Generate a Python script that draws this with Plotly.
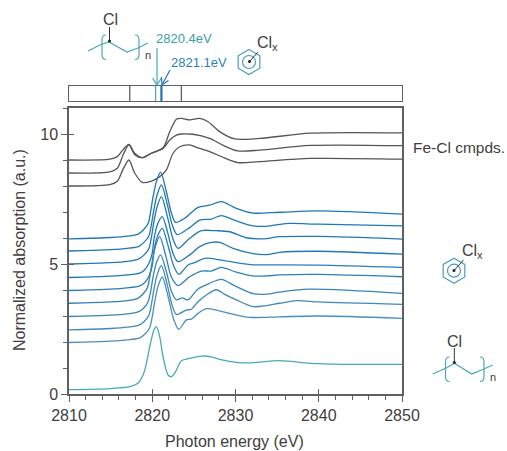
import plotly.graph_objects as go

W, H = 507, 451
L, R, T, B = 69, 402, 108, 394
STRIP_T, STRIP_B = 86, 101

# ---- data ----
fe1_x = [2810, 2814.9, 2815.8, 2816.5, 2817.2, 2817.9, 2818.8, 2819.9, 2821.3, 2822.1, 2822.9, 2823.5, 2824.5, 2825.7, 2826.7, 2828.1, 2829.9, 2832.9, 2839, 2850]
fe1_y = [9.0, 9.03, 9.13, 9.4, 9.6, 9.26, 9.09, 9.26, 9.47, 10.09, 10.57, 10.6, 10.54, 10.6, 10.47, 10.09, 9.81, 9.83, 10.03, 10.04]
fe2_x = [2810, 2814.9, 2815.8, 2816.5, 2817.2, 2817.9, 2818.8, 2819.9, 2821.3, 2822.1, 2822.9, 2823.5, 2824.9, 2826.9, 2828.6, 2830.3, 2832.9, 2839, 2850]
fe2_y = [8.5, 8.54, 8.68, 9.2, 9.58, 9.2, 9.09, 9.26, 9.44, 9.77, 9.96, 10.0, 9.99, 9.83, 9.55, 9.35, 9.38, 9.56, 9.55]
fe3_x = [2810, 2814.9, 2815.8, 2816.5, 2817.2, 2817.9, 2818.8, 2819.9, 2820.9, 2821.7, 2822.5, 2823.3, 2824.5, 2825.3, 2826.9, 2828.6, 2830.3, 2832.9, 2839, 2850]
fe3_y = [8.0, 8.05, 8.18, 8.65, 9.0, 8.49, 8.14, 8.19, 8.36, 8.62, 9.26, 9.51, 9.58, 9.49, 9.32, 9.09, 8.9, 8.94, 9.06, 9.03]

c1_x = [2810, 2815, 2817, 2818.3, 2818.9, 2819.5, 2819.8, 2820.1, 2820.5, 2821.0, 2821.7, 2822.3, 2822.8, 2823.9, 2825.5, 2826.9, 2828.3, 2830.1, 2832.1, 2835.3, 2840, 2850]
c1_y = [5.97, 6.02, 6.07, 6.15, 6.30, 6.56, 7.0, 7.59, 8.17, 8.53, 7.78, 6.96, 6.6, 6.76, 7.18, 7.26, 7.4, 7.14, 6.96, 6.99, 7.04, 6.92]
c2_x = [2810, 2815, 2817, 2818.4, 2819.0, 2819.6, 2819.9, 2820.2, 2820.6, 2821.1, 2821.8, 2822.4, 2823.0, 2824.5, 2825.7, 2827.1, 2828.3, 2830, 2832.1, 2833.7, 2836.3, 2840, 2850]
c2_y = [5.5, 5.55, 5.6, 5.68, 5.83, 6.09, 6.52, 7.1, 7.68, 8.04, 7.3, 6.5, 6.13, 6.4, 6.69, 6.73, 6.86, 6.67, 6.47, 6.45, 6.56, 6.53, 6.47]
c3_x = [2810, 2815, 2817, 2818.4, 2819.0, 2819.6, 2819.9, 2820.2, 2820.6, 2821.1, 2821.8, 2822.5, 2823.1, 2824.5, 2825.9, 2827.7, 2829.3, 2831.3, 2833.3, 2835.3, 2840, 2850]
c3_y = [5.0, 5.05, 5.1, 5.2, 5.34, 5.6, 6.03, 6.63, 7.22, 7.59, 6.85, 5.95, 5.6, 5.99, 6.28, 6.28, 6.24, 6.01, 5.97, 6.05, 6.06, 5.96]
c4_x = [2810, 2815, 2817, 2818.5, 2819.1, 2819.6, 2820.0, 2820.2, 2820.6, 2821.2, 2821.9, 2822.5, 2823.1, 2824.5, 2825.7, 2827.1, 2828.1, 2829.7, 2832.1, 2833.7, 2835.3, 2840, 2850]
c4_y = [4.48, 4.53, 4.58, 4.65, 4.78, 5.03, 5.42, 5.95, 6.5, 6.82, 6.15, 5.4, 5.09, 5.35, 5.67, 5.83, 5.83, 5.6, 5.4, 5.36, 5.45, 5.49, 5.38]
c5_x = [2810, 2815, 2817, 2818.5, 2819.1, 2819.6, 2820.0, 2820.2, 2820.6, 2821.2, 2821.9, 2822.6, 2823.2, 2824.3, 2825.1, 2826.3, 2828.3, 2830.1, 2832.1, 2835.3, 2840, 2850]
c5_y = [3.98, 4.03, 4.08, 4.16, 4.29, 4.53, 4.94, 5.5, 6.05, 6.37, 5.7, 4.9, 4.6, 4.96, 5.05, 5.22, 5.15, 5.05, 4.97, 4.97, 4.96, 4.87]
c6_x = [2810, 2815, 2817, 2818.2, 2818.8, 2819.4, 2819.7, 2820, 2820.4, 2820.9, 2821.6, 2822.3, 2823.1, 2824.5, 2825.9, 2827.1, 2828.3, 2830, 2832.1, 2833.7, 2835.3, 2840, 2850]
c6_y = [3.49, 3.54, 3.59, 3.67, 3.82, 4.08, 4.5, 5.1, 5.7, 6.05, 5.35, 4.5, 4.17, 4.51, 4.73, 4.73, 4.87, 4.7, 4.54, 4.54, 4.58, 4.6, 4.51]
c7_x = [2810, 2815, 2817, 2818.3, 2818.9, 2819.5, 2819.8, 2820.1, 2820.5, 2821.0, 2821.7, 2822.3, 2822.9, 2823.6, 2824.3, 2825.5, 2826.9, 2828.3, 2830.1, 2832.1, 2833.7, 2835.3, 2838.8, 2850]
c7_y = [2.98, 3.03, 3.08, 3.16, 3.28, 3.55, 3.93, 4.5, 5.05, 5.35, 4.7, 3.95, 3.62, 3.7, 3.62, 4.04, 4.26, 4.41, 4.13, 3.86, 3.84, 3.92, 4.03, 3.87]
c8_x = [2810, 2815, 2817, 2818.4, 2819.0, 2819.6, 2819.9, 2820.2, 2820.6, 2821.1, 2821.8, 2822.4, 2822.9, 2824.1, 2824.7, 2825.5, 2826.5, 2827.7, 2828.7, 2830.1, 2832.1, 2833.7, 2835.3, 2837.4, 2840, 2850]
c8_y = [2.47, 2.52, 2.57, 2.65, 2.78, 3.03, 3.45, 4.02, 4.6, 4.94, 4.2, 3.4, 3.06, 3.23, 3.26, 3.55, 3.81, 4.01, 3.83, 3.62, 3.36, 3.4, 3.49, 3.59, 3.54, 3.45]
c9_x = [2810, 2815, 2817, 2818.5, 2819.1, 2819.7, 2820.0, 2820.3, 2820.7, 2821.2, 2821.9, 2822.6, 2823.2, 2824.1, 2824.7, 2825.5, 2826.5, 2827.7, 2829.3, 2831.7, 2835.3, 2840, 2850]
c9_y = [1.98, 2.03, 2.08, 2.16, 2.3, 2.55, 2.98, 3.55, 4.15, 4.5, 3.75, 2.85, 2.49, 2.85, 2.88, 3.1, 3.28, 3.23, 3.1, 2.95, 2.97, 3.0, 2.91]
pvc_x = [2810, 2815, 2817.3, 2818.3, 2818.9, 2819.3, 2819.7, 2820.2, 2820.5, 2820.9, 2821.3, 2821.9, 2822.3, 2822.8, 2823.5, 2824.5, 2825.9, 2827.1, 2828.1, 2830.1, 2831.7, 2835.3, 2839, 2842.9, 2850]
pvc_y = [0.17, 0.21, 0.28, 0.42, 0.73, 1.18, 1.82, 2.46, 2.59, 2.2, 1.43, 0.73, 0.67, 0.86, 1.28, 1.37, 1.46, 1.43, 1.33, 1.22, 1.2, 1.28, 1.18, 1.14, 1.14]

fe_series = [(fe1_x, fe1_y), (fe2_x, fe2_y), (fe3_x, fe3_y)]
blue_series = [(c1_x, c1_y), (c2_x, c2_y), (c3_x, c3_y), (c4_x, c4_y), (c5_x, c5_y),
               (c6_x, c6_y), (c7_x, c7_y), (c8_x, c8_y), (c9_x, c9_y)]
blue_colors = ["#1f78b4", "#1f78b4", "#1f78b4", "#1f78b4", "#2a7db5",
               "#2f80b6", "#3a86b8", "#4089b8", "#4a8fba"]

strip_gray = [2817.3, 2823.5]
strip_teal = [2820.4]
strip_blue = [2821.1]

GRAY = "#606060"
TXT = "#404040"
TEAL = "#4aa9b5"
HEXC = "#4a9cc0"
BLUE = "#2176b8"
FONT = "Liberation Sans, Arial, sans-serif"

fig = go.Figure()
for x, y in fe_series:
    fig.add_trace(go.Scatter(x=x, y=y, mode="lines", line=dict(color="#555555", width=1.3, shape="spline", smoothing=0.8), hoverinfo="skip", showlegend=False))
for (x, y), c in zip(blue_series, blue_colors):
    fig.add_trace(go.Scatter(x=x, y=y, mode="lines", line=dict(color=c, width=1.3, shape="spline", smoothing=0.8), hoverinfo="skip", showlegend=False))
fig.add_trace(go.Scatter(x=pvc_x, y=pvc_y, mode="lines", line=dict(color=TEAL, width=1.3, shape="spline", smoothing=0.8), hoverinfo="skip", showlegend=False))

# event strip
for vals, col, w in [(strip_gray, GRAY, 1.3), (strip_teal, TEAL, 1.3), (strip_blue, BLUE, 2.2)]:
    for v in vals:
        fig.add_trace(go.Scatter(x=[v, v], y=[0, 1], mode="lines", line=dict(color=col, width=w), xaxis="x2", yaxis="y2", hoverinfo="skip", showlegend=False))
# carrier for the overlay axes drawing the inner half of the major ticks
fig.add_trace(go.Scatter(x=[2810], y=[0], mode="markers", marker=dict(opacity=0, size=1), xaxis="x3", yaxis="y3", hoverinfo="skip", showlegend=False))

def fx(px):
    return px / W
def fy(py):
    return 1 - py / H
def path(points, close=False):
    s = "M" + " L".join(f"{fx(a):.4f},{fy(b):.4f}" for a, b in points)
    return s + (" Z" if close else "")
def curve(p0, c1, c2, p1):
    return (f"M{fx(p0[0]):.4f},{fy(p0[1]):.4f} C{fx(c1[0]):.4f},{fy(c1[1]):.4f} "
            f"{fx(c2[0]):.4f},{fy(c2[1]):.4f} {fx(p1[0]):.4f},{fy(p1[1]):.4f}")

shapes = []
def pline(points, color, width=1.2, close=False, fill=None):
    shapes.append(dict(type="path", xref="paper", yref="paper", path=path(points, close),
                       line=dict(color=color, width=width), fillcolor=fill))
def bracket(xo, xi, ytop, ybot, color):
    shapes.append(dict(type="path", xref="paper", yref="paper",
                       path=curve((xo, ytop), (xi, ytop), (xi, ytop + 3), (xi, ytop + 5)) + " " +
                            path([(xi, ytop + 5), (xi, ybot - 5)]) + " " +
                            curve((xi, ybot - 5), (xi, ybot - 3), (xi, ybot), (xo, ybot)),
                       line=dict(color=color, width=1.2)))
def polymer(pts, bl, br, ytop, ybot):
    pline(pts, TEAL)
    bracket(bl + 4, bl, ytop, ybot, TEAL)
    bracket(br - 4, br, ytop, ybot, TEAL)
def hexagon(cx, cy, r):
    dx, dy = r * 0.866, r * 0.5
    pline([(cx, cy - r), (cx + dx, cy - dy), (cx + dx, cy + dy), (cx, cy + r), (cx - dx, cy + dy), (cx - dx, cy - dy)], HEXC, close=True)
    shapes.append(dict(type="circle", xref="paper", yref="paper", x0=fx(cx - 6.5), x1=fx(cx + 6.5),
                       y0=fy(cy + 6.5), y1=fy(cy - 6.5), line=dict(color=HEXC, width=1.2)))
def blackarrow(x0, y0, x1, y1):
    pline([(x0, y0), (x1, y1)], "#333333", 1.0)
    shapes.append(dict(type="circle", xref="paper", yref="paper", x0=fx(x1 - 1.5), x1=fx(x1 + 1.5),
                       y0=fy(y1 + 1.5), y1=fy(y1 - 1.5), line=dict(width=0), fillcolor="#222222"))

polymer([(88, 51), (101, 44.5), (109, 42), (127, 52), (138, 48), (148, 43)], 102, 139, 35, 59.5)
blackarrow(109.5, 27, 109.5, 41)
polymer([(432.7, 374), (446.7, 367.7), (454.3, 363.3), (471.7, 374), (483.3, 369.3), (492.7, 365)], 445.5, 484, 357, 381.5)
blackarrow(454.3, 348, 454.3, 362.5)
hexagon(249, 62, 12.5)
blackarrow(258, 52, 249.5, 61.5)
hexagon(454, 270.7, 12.5)
blackarrow(463.5, 260, 454, 270.5)
# pointers to the strip
pline([(157, 48), (157, 85)], TEAL, 1.2)
pline([(152.5, 78), (157, 85), (161.5, 78)], TEAL, 1.2)
pline([(170, 70), (162, 85)], BLUE, 1.2)
pline([(161.5, 77), (162, 85), (168.5, 80.5)], BLUE, 1.2)

def note(text, x, y, size, color=TXT, anchor="left", angle=0):
    return dict(text=text, xref="paper", yref="paper", x=fx(x), y=fy(y), xanchor=anchor, yanchor="middle",
                showarrow=False, textangle=angle, font=dict(family=FONT, size=size, color=color))

annotations = [
    note("Cl", 110.5, 20, 16, anchor="center"),
    note("n", 142.5, 55, 11),
    note("2820.4eV", 153.5, 39, 13, "#3aa0a8"),
    note("2821.1eV", 168.5, 63, 13, "#2b7fbd"),
    note("Cl<sub>x</sub>", 255, 43, 16),
    note("Fe-Cl cmpds.", 410.5, 147, 15.5),
    note("Cl<sub>x</sub>", 460, 251, 16),
    note("Cl", 454.5, 341, 16, anchor="center"),
    note("n", 487.5, 377, 11),
    note("Photon energy (eV)", 234, 441, 16, anchor="center"),
    note("Normalized absorption (a.u.)", 19, 250, 16, anchor="center", angle=-90),
]

axis_font = dict(family=FONT, size=16, color=TXT)
fig.update_layout(
    width=W, height=H, autosize=False, margin=dict(l=0, r=0, t=0, b=0),
    paper_bgcolor="white", plot_bgcolor="white", showlegend=False,
    font=dict(family=FONT, color=TXT),
    shapes=shapes, annotations=annotations,
    xaxis=dict(domain=[L / W, R / W], range=[2810, 2850], anchor="y", tick0=2810, dtick=10,
               ticks="outside", ticklen=6, tickwidth=1.2, tickcolor=GRAY, automargin=False,
               minor=dict(ticks="outside", ticklen=4, dtick=2, tick0=2810, tickcolor=GRAY, tickwidth=1),
               showgrid=False, zeroline=False, showline=True, linecolor=GRAY, linewidth=1.5, mirror=True,
               tickfont=axis_font),
    yaxis=dict(domain=[1 - B / H, 1 - T / H], range=[0, 11], anchor="x", tickvals=[0, 5, 10],
               ticks="outside", ticklen=6, tickwidth=1.2, tickcolor=GRAY, automargin=False,
               minor=dict(ticks="outside", ticklen=4, dtick=1, tick0=0, tickcolor=GRAY, tickwidth=1),
               showgrid=False, zeroline=False, showline=True, linecolor=GRAY, linewidth=1.5, mirror=True,
               tickfont=axis_font),
    xaxis2=dict(domain=[L / W, R / W], range=[2810, 2850], anchor="y2", showticklabels=False, ticks="",
                showgrid=False, zeroline=False, showline=True, linecolor=GRAY, linewidth=1.3, mirror=True),
    yaxis2=dict(domain=[1 - STRIP_B / H, 1 - STRIP_T / H], range=[0, 1], anchor="x2", showticklabels=False, ticks="",
                showgrid=False, zeroline=False, showline=True, linecolor=GRAY, linewidth=1.3, mirror=True),
    xaxis3=dict(domain=[L / W, R / W], range=[2810, 2850], anchor="y3", overlaying="x", tick0=2810, dtick=10,
                ticks="inside", ticklen=5, tickwidth=1.2, tickcolor=GRAY, showticklabels=False, showgrid=False,
                zeroline=False, showline=False),
    yaxis3=dict(domain=[1 - B / H, 1 - T / H], range=[0, 11], anchor="x3", overlaying="y", tickvals=[0, 5, 10],
                ticks="inside", ticklen=5, tickwidth=1.2, tickcolor=GRAY, showticklabels=False, showgrid=False,
                zeroline=False, showline=False),
)
fig.write_html("out.html", config=dict(displayModeBar=False),
               post_script="document.body.style.margin='0';document.documentElement.style.overflow='hidden';")
